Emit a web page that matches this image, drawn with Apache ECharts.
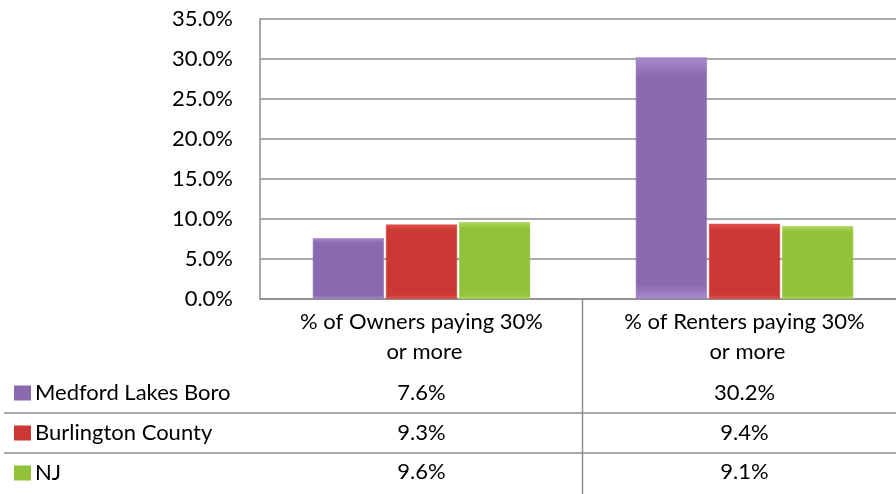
<!DOCTYPE html>
<html>
<head>
  <meta charset="utf-8">
  <title>Housing cost burden</title>
  <script src="https://cdn.jsdelivr.net/npm/echarts@6/dist/echarts.min.js"></script>
  <style>
    html, body { margin: 0; padding: 0; background: #fff; }
    #chart { width: 896px; height: 494px; }
  </style>
</head>
<body>
  <div id="chart"></div>
  <script>
    // data
    const categories = ['% of Owners paying 30% or more', '% of Renters paying 30% or more'];
    const seriesNames = ['Medford Lakes Boro', 'Burlington County', 'NJ'];
    const medford = [7.6, 30.2];
    const burlington = [9.3, 9.4];
    const nj = [9.6, 9.1];
    const yTicks = [0, 5, 10, 15, 20, 25, 30, 35];

    const values = [medford, burlington, nj];
    const colors = [
      ['#a68ccb', '#8a6aae'],
      ['#e5524d', '#cc3834'],
      ['#b0d85a', '#91c23a']
    ];
    const font = 'Lato, "Open Sans", sans-serif';

    const chart = echarts.init(document.getElementById('chart'));

    // one extra hidden x axis per table row, so the cells sit under their categories
    const rowOffsets = [83, 123, 162];
    const tableAxes = values.map((vals, r) => ({
      type: 'category',
      data: categories,
      position: 'bottom',
      offset: rowOffsets[r],
      axisLine: { show: false },
      axisTick: { show: false },
      axisLabel: {
        margin: 0,
        color: '#000',
        fontFamily: font,
        fontSize: 22,
        lineHeight: 22,
        interval: 0,
        formatter: (v, i) => vals[i].toFixed(1) + '%'
      }
    }));

    chart.setOption({
      animation: false,
      textStyle: { fontFamily: font },
      legend: {
        orient: 'vertical',
        left: 14,
        top: 382,
        padding: 0,
        itemWidth: 15,
        itemHeight: 13,
        itemGap: 18,
        icon: 'rect',
        selectedMode: false,
        textStyle: { color: '#000', fontSize: 22, lineHeight: 22, fontFamily: font },
        data: seriesNames
      },
      // the plot runs a little past the right edge of the picture
      grid: { left: 260, top: 19, width: 646, height: 280, outerBoundsMode: 'none', containLabel: false },
      xAxis: [{
        type: 'category',
        data: categories,
        axisLine: { lineStyle: { color: '#8c8c8c', width: 1.5 } },
        axisTick: { show: false },
        axisLabel: {
          margin: 8,
          color: '#000',
          fontFamily: font,
          fontSize: 22,
          lineHeight: 30,
          width: 245,
          overflow: 'break',
          interval: 0,
          align: 'center'
        }
      }].concat(tableAxes),
      yAxis: {
        type: 'value',
        min: yTicks[0],
        max: yTicks[yTicks.length - 1],
        interval: 5,
        axisLine: { show: true, lineStyle: { color: '#8c8c8c', width: 1.5 } },
        axisTick: { show: false },
        splitLine: { lineStyle: { color: '#8c8c8c', width: 1.5 } },
        axisLabel: {
          margin: 27,
          color: '#000',
          fontFamily: font,
          fontSize: 22,
          formatter: v => v.toFixed(1) + '%'
        }
      },
      series: seriesNames.map((name, s) => ({
        name: name,
        type: 'bar',
        xAxisIndex: 0,
        data: values[s],
        barWidth: 71,
        barGap: '3%',
        itemStyle: {
          color: new echarts.graphic.LinearGradient(0, 0, 0, 1, [
            { offset: 0, color: colors[s][0] },
            { offset: 0.08, color: colors[s][1] },
            { offset: 0.94, color: colors[s][1] },
            { offset: 1, color: colors[s][0] }
          ]),
          borderColor: colors[s][1],
          borderWidth: 0.5
        }
      })),
      color: colors.map(c => c[1]),
      graphic: [
        { type: 'line', shape: { x1: 4, y1: 413, x2: 896, y2: 413 }, style: { stroke: '#8c8c8c', lineWidth: 1.5 } },
        { type: 'line', shape: { x1: 4, y1: 453, x2: 896, y2: 453 }, style: { stroke: '#8c8c8c', lineWidth: 1.5 } },
        { type: 'line', shape: { x1: 582.5, y1: 299, x2: 582.5, y2: 494 }, style: { stroke: '#8c8c8c', lineWidth: 1.5 } }
      ]
    });
  </script>
</body>
</html>
